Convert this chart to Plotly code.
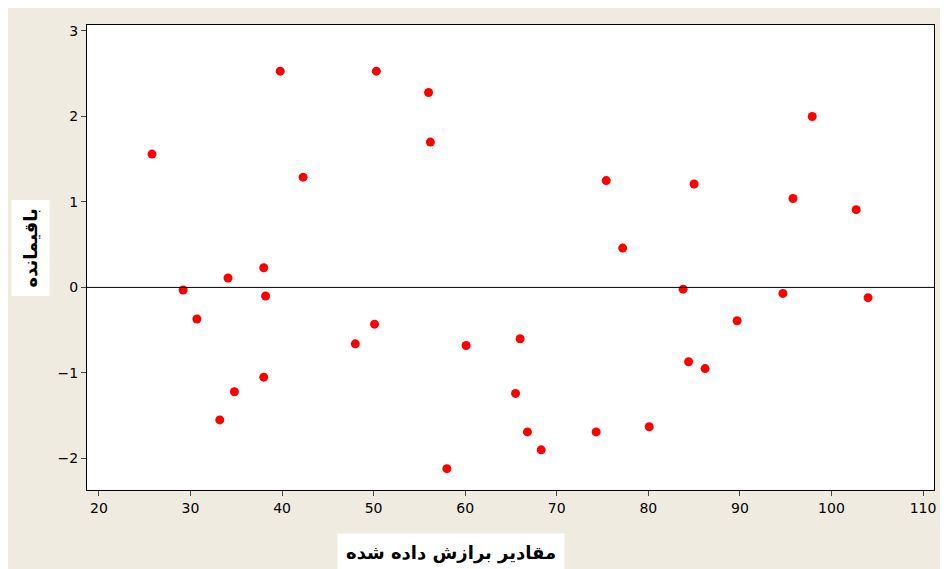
import plotly.graph_objects as go

fitted = [25.8, 29.2, 30.7, 33.2, 34.1, 34.8, 38.0, 38.0, 38.2, 39.8, 42.3, 48.0,
          50.1, 50.3, 56.0, 56.2, 58.0, 60.1, 65.5, 66.0, 66.8, 68.3, 74.3, 75.4,
          77.2, 80.1, 83.8, 84.4, 85.0, 86.2, 89.7, 94.7, 95.8, 97.9, 102.7, 104.0]
residuals = [1.56, -0.03, -0.37, -1.55, 0.11, -1.22, 0.23, -1.05, -0.10, 2.53, 1.29, -0.66,
             -0.43, 2.53, 2.28, 1.70, -2.12, -0.68, -1.24, -0.60, -1.69, -1.90, -1.69, 1.25,
             0.46, -1.63, -0.02, -0.87, 1.21, -0.95, -0.39, -0.07, 1.04, 2.00, 0.91, -0.12]

fig = go.Figure(go.Scatter(x=fitted, y=residuals, mode="markers",
                           marker=dict(color="#ff0000", size=9), hoverinfo="x+y"))

fig.add_shape(type="line", xref="paper", x0=0, x1=1, y0=0, y1=0,
              line=dict(color="black", width=1))

fig.add_annotation(text="<b>مقادیر برازش داده شده</b>", xref="paper", yref="paper",
                   x=0.43, y=-0.135, yanchor="middle", showarrow=False,
                   font=dict(size=18, color="black"), bgcolor="white", borderpad=8)
fig.add_annotation(text="<b>باقیمانده</b>", xref="paper", yref="paper",
                   x=-0.09, y=0.52, textangle=-90, showarrow=False,
                   font=dict(size=18, color="black"), bgcolor="white", borderpad=8)

fig.update_layout(
    width=940, height=561,
    paper_bgcolor="#efebe0", plot_bgcolor="white",
    font=dict(family="DejaVu Sans", size=14, color="black"),
    margin=dict(l=79, r=12, t=17, b=79),
    showlegend=False,
    xaxis=dict(range=[18.7, 111.2], tickvals=list(range(20, 111, 10)), showgrid=False,
               zeroline=False, ticks="outside", ticklen=5, showline=True,
               linecolor="black", mirror=True, ticklabeloverflow="allow"),
    yaxis=dict(range=[-2.37, 3.07], tickvals=[-2, -1, 0, 1, 2, 3], showgrid=False,
               zeroline=False, ticks="outside", ticklen=5, showline=True,
               linecolor="black", mirror=True),
)

fig.write_html("out.html")
